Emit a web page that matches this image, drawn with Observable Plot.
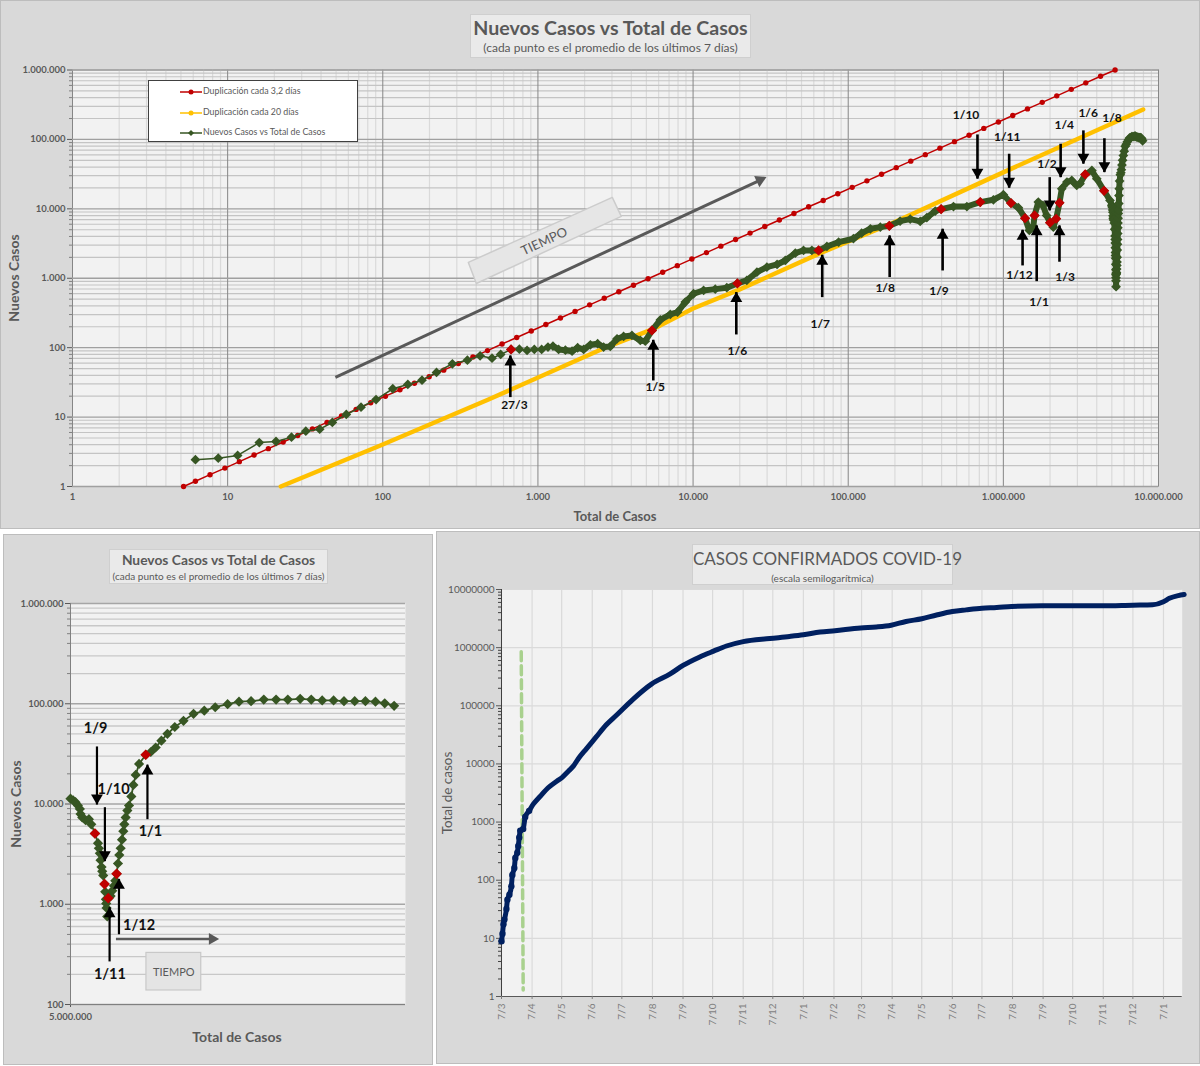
<!DOCTYPE html>
<html lang="es">
<head>
<meta charset="utf-8">
<script src="https://cdn.jsdelivr.net/npm/d3@7"></script>
<script src="https://cdn.jsdelivr.net/npm/@observablehq/plot@0.6"></script>
<style>
  body { margin: 0; background: #fff; font-family: Lato, "Open Sans", sans-serif; color: #595959; }
  #hoja { position: relative; width: 1200px; height: 1066px; overflow: hidden; }
  .panel { position: absolute; background: #d9d9d9; box-shadow: inset 0 0 0 1px #bdbdbd; }
  .panel > svg { display: block; position: absolute; left: 0; top: 0; }
  .titulo { position: absolute; box-sizing: border-box; background: #eaeaea; border: 1px solid #cfcfcf; text-align: center; z-index: 2; white-space: nowrap; }
  .eje { position: absolute; font-weight: bold; white-space: nowrap; transform: translate(-50%, -50%); z-index: 2; }
  .eje.v { transform: translate(-50%, -50%) rotate(-90deg); }
  #leyenda { position: absolute; left: 148px; top: 80px; width: 210px; height: 62px; box-sizing: border-box; background: #fff; border: 1px solid #404040; font-size: 8.8px; z-index: 2; }
  #leyenda div { position: absolute; left: 31px; height: 12px; line-height: 12px; white-space: nowrap; }
  #leyenda svg { vertical-align: middle; margin-right: 1px; }
</style>
</head>
<body>
<div id="hoja">
  <div class="panel" id="p1" style="left:0;top:0;width:1200px;height:529px">
    <div class="titulo" style="left:470px;top:14px;width:281px;height:44px">
      <div style="font-size:19.6px;font-weight:bold;line-height:26px">Nuevos Casos vs Total de Casos</div>
      <div style="font-size:12px;line-height:14px">(cada punto es el promedio de los últimos 7 días)</div>
    </div>
    <div id="leyenda">
      <div style="top:4px"><svg width="22" height="8"><line x1="0" x2="22" y1="4" y2="4" stroke="#c00000" stroke-width="1.5"/><circle cx="11" cy="4" r="2.5" fill="#c00000"/></svg>Duplicación cada 3,2 días</div>
      <div style="top:25px"><svg width="22" height="8"><line x1="0" x2="22" y1="4" y2="4" stroke="#ffc000" stroke-width="1.5"/><circle cx="11" cy="4" r="2.5" fill="#ffc000"/></svg>Duplicación cada 20 días</div>
      <div style="top:45px"><svg width="22" height="8"><line x1="0" x2="22" y1="4" y2="4" stroke="#375623" stroke-width="1.5"/><path d="M11 1L14 4L11 7L8 4Z" fill="#375623"/></svg>Nuevos Casos vs Total de Casos</div>
    </div>
    <div class="eje" style="left:615px;top:516px;font-size:13px">Total de Casos</div>
    <div class="eje v" style="left:13px;top:278px;font-size:14px">Nuevos Casos</div>
  </div>
  <div class="panel" id="p2" style="left:3px;top:534px;width:430px;height:531px">
    <div class="titulo" style="left:106px;top:15px;width:219px;height:35px">
      <div style="font-size:13.8px;font-weight:bold;line-height:20px">Nuevos Casos vs Total de Casos</div>
      <div style="font-size:10px;line-height:12px">(cada punto es el promedio de los últimos 7 días)</div>
    </div>
    <div class="eje" style="left:234px;top:502px;font-size:14px">Total de Casos</div>
    <div class="eje v" style="left:12px;top:270px;font-size:14px">Nuevos Casos</div>
  </div>
  <div class="panel" id="p3" style="left:436px;top:531px;width:764px;height:533px">
    <div class="titulo" style="left:256px;top:13px;width:261px;height:41px">
      <div style="font-size:17px;line-height:28px">CASOS CONFIRMADOS COVID-19</div>
      <div style="font-size:10px;line-height:10px">(escala semilogarítmica)</div>
    </div>
    <div class="eje v" style="left:11px;top:262px;font-size:13.5px;font-weight:normal">Total de casos</div>
  </div>
</div>
<script>
// Duplicacion cada 3,2 dias
const rojoTotal = [5.2,6.2,7.7,9.6,11.9,14.8,18.3,22.8,28.3,35.2,43.7,54.2,67.3,83.6,104,129,160,199,247,307,381,473,587,730,906,1125,1397,1735,2154,2675,3322,4130,5130,6370,7910,9820,12200,15100,18800,23300,29000,36000,44700,55600,69000,85700,106000,132000,164000,204000,253000,314000,390000,484000,601000,748000,929000,1150000,1430000,1780000,2210000,2740000,3400000,4230000,5250000]
const rojoNuevos = [1,1.19,1.48,1.84,2.28,2.84,3.51,4.38,5.43,6.76,8.39,10.4,12.9,16.1,20,24.8,30.7,38.2,47.4,58.9,73.2,90.8,113,140,174,216,268,333,414,514,638,793,985,1220,1520,1890,2340,2900,3610,4470,5570,6910,8580,10700,13200,16500,20400,25300,31500,39200,48600,60300,74900,92900,115000,144000,178000,221000,275000,342000,424000,526000,653000,812000,1000000]
// Duplicacion cada 20 dias
const amarilloTotal = [22,96.5,472,2640,5460,10000,19300,66000,184000,998000,7960000]
const amarilloNuevos = [1,3.9,17.6,97.4,183,367,667,2300,5960,33500,270000]

// Nuevos casos vs total: tramo hasta 4,9 millones
const total1 = [6.2,8.7,11.6,16,20.5,25.8,31.9,39.2,47.3,58.2,72.4,90.5,116,145,179,222,281,351,424,506,575,671,759,851,948,1057,1161,1250,1359,1503,1660,1803,1971,2178,2426,2650,2927,3236,3565,4036,4571,4920,5433,6150,7130,7940,8910,10070,11690,13900,16500,19300,22200,25800,29900,34800,39300,45600,51500,58300,64400,72900,86700,108000,122000,139000,161000,184000,216000,251000,291000,321000,364000,397000,477000,582000,710000,863000,1000000,1120000,1250000,1380000,1470000,1560000,1590000,1680000,1800000,1900000,2000000,2100000,2190000,2300000,2380000,2570000,2760000,2970000,3120000,3370000,3720000,4000000,4460000,4870000]
const nuevos1 = [2.43,2.56,2.8,4.3,4.45,5.13,6.26,6.69,8.36,10.9,13.9,17.9,25.6,29.5,34,44,58.6,66,76.4,70.6,79.8,94.2,95.1,91.2,94.2,94.2,102,105,94.2,92,89,99.7,94.2,110,114,102,104,134,145,150,127,124,177,251,301,325,453,598,667,697,730,841,930,1225,1445,1580,1805,2300,2515,2515,2515,2870,3310,3710,4470,5160,5450,5700,6650,7110,6580,7450,9270,9900,10800,10800,12500,13500,16000,12100,10400,7340,4880,5570,8040,12500,11200,8040,6310,5450,7200,12200,19500,24300,25700,21700,23000,31300,35700,27200,18200,13200]
// Tramo desde 5 millones (grafico de abajo)
const total2 = [5000000,5024000,5045000,5066000,5084000,5090000,5105000,5135000,5165000,5186000,5219000,5246000,5254000,5263000,5269000,5278000,5284000,5293000,5305000,5311000,5317000,5320000,5323000,5329000,5338000,5347000,5359000,5374000,5389000,5401000,5413000,5425000,5437000,5449000,5461000,5473000,5482000,5494000,5509000,5524000,5545000,5563000,5584000,5614000,5674000,5719000,5763000,5814000,5868000,5934000,6012000,6102000,6198000,6296000,6407000,6509000,6617000,6731000,6841000,6946000,7057000,7156000,7254000,7356000,7449000,7545000,7641000,7731000,7814000,7898000]
const nuevos2 = [11300,10860,10440,9660,8930,7940,7340,6890,7060,6270,5080,4070,3620,3220,2750,2350,2130,1940,1590,1330,1120,1020,919,755,1150,1170,1210,1360,1530,1720,2010,2550,3100,3620,4410,5360,6270,7340,8590,9660,11900,15500,19500,25100,31000,33000,36600,42800,50100,58600,67500,79400,85300,92300,99100,105000,106000,110000,110000,110000,112000,110000,108000,108000,106000,106000,106000,105000,101000,95300]

// Puntos rojos (primero de cada mes)
const marcaTotal1 = [671,5433,19300,64400,184000,397000,710000,1120000,1380000,1590000,2000000,2190000,2300000,3370000,4460000]
const marcaNuevos1 = [94.2,177,841,2515,5700,9900,12500,12100,7340,8040,6310,7200,12200,31300,18200]
const marcaTotal2 = [5219000,5305000,5338000,5413000,5674000]
const marcaNuevos2 = [5080,1590,1150,2010,31000]

// Flechas y etiquetas de fechas, grafico de arriba
const fechas1 = ["27/3","1/5","1/6","1/7","1/8","1/9","1/10","1/11","1/12","1/1","1/2","1/3","1/4","1/6","1/8"]
const flechaX1 = [664,5540,19000,68000,185000,406000,681000,1090000,1330000,1640000,1990000,2300000,2340000,3280000,4480000]
const flechaDesde1 = [19.4,33.7,155,534,1040,1295,118000,62200,1530,908,28600,1730,86700,135000,104000]
const flechaHasta1 = [77.2,130,631,2180,4140,5165,27200,20100,5000,5770,9480,5770,28600,44700,33800]
const textoX1 = [705,5710,19300,66000,173000,385000,575000,1060000,1270000,1700000,1910000,2500000,2470000,3520000,5020000]
const textoY1 = [14.7,26.7,88.1,216,713,645,222000,107000,1100,448,43700,1030,159000,237000,201000]

// Idem, grafico de abajo
const fechas2 = ["1/9","1/10","1/11","1/12","1/1"]
const flechaX2 = [5237000,5308000,5350000,5434000,5689000]
const flechaDesde2 = [37500,9290,269,502,7060]
const flechaHasta2 = [9880,2690,934,1790,24700]
const textoX2 = [5225000,5386000,5353000,5614000,5716000]
const textoY2 = [56300,14100,199,621,5320]

// Cartel TIEMPO de arriba (esquinas) y flecha gris
const cartelTotal = [356,3015,3445,401]
const cartelNuevos = [1690,14600,7770,841]

// Casos confirmados
const fechasConf = ["2020-03-07","2020-03-08","2020-03-09","2020-03-10","2020-03-12","2020-03-13","2020-03-15","2020-03-17","2020-03-18","2020-03-20","2020-03-21","2020-03-23","2020-03-24","2020-03-25","2020-03-26","2020-03-29","2020-03-31","2020-04-04","2020-04-08","2020-04-15","2020-04-23","2020-05-02","2020-05-07","2020-05-14","2020-05-19","2020-05-24","2020-06-01","2020-06-11","2020-06-21","2020-07-02","2020-07-18","2020-08-06","2020-08-25","2020-09-07","2020-09-24","2020-10-08","2020-10-21","2020-11-07","2020-12-04","2020-12-24","2021-01-07","2021-01-24","2021-02-08","2021-03-06","2021-03-22","2021-04-06","2021-04-21","2021-05-07","2021-05-22","2021-06-07","2021-06-21","2021-07-07","2021-07-22","2021-08-06","2021-09-06","2021-10-06","2021-11-06","2021-12-07","2021-12-27","2022-01-07","2022-01-13","2022-01-22","2022-01-28"]
const casosConf = [8.9,12,17.5,21,32,46,56.5,79,123,162,242,297,388,544,713,762,1220,1560,2010,2750,3850,5040,5770,7550,9250,12400,18200,29100,46700,70000,128000,236000,353000,494000,693000,871000,1067000,1270000,1435000,1556000,1664000,1854000,1959000,2182000,2270000,2432000,2818000,3140000,3640000,4170000,4460000,4765000,4898000,5105000,5240000,5240000,5240000,5380000,5455000,6160000,7050000,7850000,8180000]
const fechasTick = ["2020-03-07","2020-04-07","2020-05-07","2020-06-07","2020-07-07","2020-08-07","2020-09-07","2020-10-07","2020-11-07","2020-12-07","2021-01-07","2021-02-07","2021-03-07","2021-04-07","2021-05-07","2021-06-07","2021-07-07","2021-08-07","2021-09-07","2021-10-07","2021-11-07","2021-12-07","2022-01-07"]
const rectaFecha = ["2020-03-27","2020-03-29"]
const rectaCasos = [849000,1.29]

const VERDE = "#375623", ROJO = "#c00000", AMARILLO = "#ffc000", AZUL = "#002060", GRIS = "#595959"

const puntos = (xs, ys) => xs.map((x, i) => ({x, y: ys[i]}))
const miles = d => d3.format(",")(d).replace(/,/g, ".")
const decadas = (a, b) => { let r = []; for (let d = a; d <= b; d *= 10) r.push(d); return r }
const menores = (a, b) => { let r = []; for (let d = a; d < b; d *= 10) for (let k = 2; k < 10; k++) r.push(d * k); return r }
const porDia = (f) => new Date(f + "T00:00:00Z")

// Flecha con punta rellena: la linea va con link y la punta con un triangulo
function flechas(filas, color, ancho) {
  return [
    Plot.link(filas, {x1: "x", x2: "x", y1: "y1", y2: "y2", stroke: color, strokeWidth: ancho}),
    Plot.dot(filas.filter(d => d.y2 > d.y1), {x: "x", y: "y2", symbol: "triangle", r: 4.4, fill: color, dy: 6.5}),
    Plot.dot(filas.filter(d => d.y2 < d.y1), {x: "x", y: "y2", symbol: "triangle", r: 4.4, fill: color, rotate: 180, dy: -6.5}),
  ]
}
const filasFlecha = (xs, desde, hasta) => xs.map((x, i) => ({x, y1: desde[i], y2: hasta[i]}))
const diamante = (datos, r, fill) => Plot.dot(datos, {x: "x", y: "y", symbol: "diamond2", r, fill})

const verde1 = puntos(total1, nuevos1).concat(puntos(total2, nuevos2))
const verde2 = puntos(total2, nuevos2)

// Grafico de arriba
document.querySelector("#p1").append(Plot.plot({
  width: 1200, height: 529,
  marginLeft: 72, marginRight: 42, marginTop: 69.5, marginBottom: 43,
  style: {background: "transparent", fontFamily: "Lato, sans-serif"},
  x: {type: "log", domain: [1, 1e7]},
  y: {type: "log", domain: [1, 1e6]},
  marks: [
    Plot.frame({fill: "#f2f2f2", stroke: "#a6a6a6"}),
    Plot.ruleX(menores(1, 1e7), {stroke: "#dadada", strokeWidth: 1.2}),
    Plot.ruleY(menores(1, 1e6), {stroke: "#c4c4c4", strokeWidth: 1.2}),
    Plot.ruleX(decadas(1, 1e7), {stroke: "#868686"}),
    Plot.ruleY(decadas(1, 1e6), {stroke: "#a0a0a0", strokeWidth: 1.4}),
    Plot.axisY({ticks: menores(1, 1e6), tickFormat: () => "", tickSize: 3, label: null, stroke: "#808080"}),
    Plot.axisY({ticks: decadas(1, 1e6), tickFormat: miles, tickSize: 5, tickPadding: 2, label: null, fontSize: 9.5, fontWeight: "bold", color: GRIS}),
    Plot.axisX({ticks: decadas(1, 1e7), tickFormat: miles, tickSize: 0, tickPadding: 7, label: null, fontSize: 9.5, fontWeight: "bold", color: GRIS}),
    // cartel y flecha de tiempo
    Plot.line(puntos(cartelTotal, cartelNuevos), {x: "x", y: "y", curve: "linear-closed", fill: "#e6e6e6", stroke: "#cccccc"}),
    Plot.text(["TIEMPO"], {x: 1100, y: 3390, rotate: -25, fontSize: 13, fill: GRIS}),
    Plot.link([{x1: 49.5, y1: 37.2, x2: 28000, y2: 26800}], {x1: "x1", y1: "y1", x2: "x2", y2: "y2", stroke: GRIS, strokeWidth: 3}),
    Plot.dot([{x: 27000, y: 26000}], {x: "x", y: "y", symbol: "triangle", r: 4.6, fill: GRIS, rotate: 65}),
    // series
    Plot.line(puntos(amarilloTotal, amarilloNuevos), {x: "x", y: "y", stroke: AMARILLO, strokeWidth: 4.5}),
    Plot.line(puntos(rojoTotal, rojoNuevos), {x: "x", y: "y", stroke: ROJO, strokeWidth: 1.5}),
    Plot.dot(puntos(rojoTotal, rojoNuevos), {x: "x", y: "y", r: 2.7, fill: ROJO}),
    Plot.line(verde1, {x: "x", y: "y", stroke: VERDE, strokeWidth: 1.5}),
    Plot.line(verde1.slice(27), {x: "x", y: "y", stroke: VERDE, strokeWidth: 6}),
    diamante(verde1, 4.4, VERDE),
    diamante(puntos(marcaTotal1, marcaNuevos1), 4.6, ROJO),
    ...flechas(filasFlecha(flechaX1, flechaDesde1, flechaHasta1), "#000", 2.6),
    Plot.text(fechas1, {x: (d, i) => textoX1[i], y: (d, i) => textoY1[i], text: d => d, fontSize: 12, fontWeight: "bold", fill: "#111"}),
  ],
}))

// Grafico de abajo a la izquierda
document.querySelector("#p2").append(Plot.plot({
  width: 430, height: 531,
  marginLeft: 67, marginRight: 28, marginTop: 69, marginBottom: 61,
  style: {background: "transparent", fontFamily: "Lato, sans-serif"},
  x: {type: "linear", domain: [5e6, 8e6]},
  y: {type: "log", domain: [100, 1e6]},
  marks: [
    Plot.frame({fill: "#f2f2f2", stroke: null}),
    Plot.ruleY(menores(100, 1e6), {stroke: "#c8c8c8", strokeWidth: 1.3}),
    Plot.ruleY(decadas(100, 1e6), {stroke: "#a6a6a6", strokeWidth: 1.6}),
    Plot.ruleX([5e6], {stroke: "#808080"}),
    Plot.axisY({ticks: menores(100, 1e6), tickFormat: () => "", tickSize: 3, label: null, stroke: "#808080"}),
    Plot.axisY({ticks: decadas(100, 1e6), tickFormat: miles, tickSize: 5, tickPadding: 2, label: null, fontSize: 9.5, fontWeight: "bold", color: GRIS}),
    Plot.axisX({ticks: [5e6], tickFormat: miles, tickSize: 3, tickPadding: 6, label: null, fontSize: 9.5, fontWeight: "bold", color: GRIS}),
    Plot.ruleY([100], {stroke: "#808080"}),
    Plot.rect([{}], {x1: 5680000, x2: 6171000, y1: 138, y2: 327, fill: "#e4e4e4", stroke: "#c8c8c8", strokeWidth: 1.2}),
    Plot.text(["TIEMPO"], {x: 5925000, y: 211, fontSize: 11, fill: GRIS}),
    Plot.link([{}], {x1: 5407000, x2: 6250000, y1: 451, y2: 451, stroke: GRIS, strokeWidth: 2.5}),
    Plot.dot([{}], {x: 6270000, y: 451, symbol: "triangle", r: 4.4, fill: GRIS, rotate: 90}),
    Plot.line(verde2, {x: "x", y: "y", stroke: VERDE, strokeWidth: 1.8}),
    diamante(verde2, 4.6, VERDE),
    diamante(puntos(marcaTotal2, marcaNuevos2), 4.8, ROJO),
    ...flechas(filasFlecha(flechaX2, flechaDesde2, flechaHasta2), "#000", 2.2),
    Plot.text(fechas2, {x: (d, i) => textoX2[i], y: (d, i) => textoY2[i], text: d => d, fontSize: 14.5, fontWeight: "bold", fill: "#111"}),
  ],
}))

// Casos confirmados
const azul = fechasConf.map((f, i) => ({x: porDia(f), y: casosConf[i]}))
document.querySelector("#p3").append(Plot.plot({
  width: 764, height: 533,
  marginLeft: 65, marginRight: 18.3, marginTop: 58, marginBottom: 68,
  style: {background: "transparent", fontFamily: "Lato, sans-serif"},
  x: {type: "time", domain: [porDia("2020-03-07"), porDia("2022-01-26")]},
  y: {type: "log", domain: [1, 1e7]},
  marks: [
    Plot.frame({fill: "#f2f2f2", stroke: null}),
    Plot.ruleX(fechasTick.map(porDia), {stroke: "#dadada", strokeWidth: 1.2}),
    Plot.ruleY(decadas(1, 1e7), {stroke: "#dadada", strokeWidth: 1.2}),
    Plot.ruleX([porDia("2020-03-07")], {stroke: "#404040"}),
    Plot.ruleY([1], {stroke: "#595959"}),
    Plot.axisY({ticks: menores(1, 1e7), tickFormat: () => "", tickSize: 3, label: null, stroke: "#404040"}),
    Plot.axisY({ticks: decadas(1, 1e7), tickFormat: d => String(d), tickSize: 5, tickPadding: 2, label: null, fontSize: 10, color: GRIS}),
    Plot.axisX({ticks: fechasTick.map(porDia), tickFormat: d => `${d.getUTCDate()}/${d.getUTCMonth() + 1}`, tickRotate: -90, tickSize: 3, tickPadding: 4, label: null, fontSize: 10, color: "#7f7f7f"}),
    Plot.line(puntos(rectaFecha.map(porDia), rectaCasos), {x: "x", y: "y", stroke: "#a9d18e", strokeWidth: 3.5, strokeDasharray: "9,5"}),
    Plot.line(azul, {x: "x", y: "y", stroke: AZUL, strokeWidth: 5, strokeLinecap: "round", curve: "monotone-x"}),
    Plot.dot(azul.slice(0, 18), {x: "x", y: "y", r: 3.2, fill: AZUL}),
  ],
}))
</script>
</body>
</html>
